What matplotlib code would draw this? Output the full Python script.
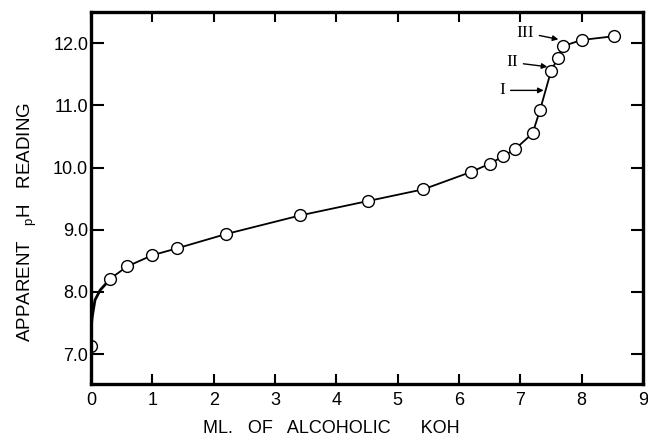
import matplotlib
matplotlib.use("Agg")
import matplotlib.pyplot as plt

# titration data
ml_koh = [0.0, 0.31, 0.59, 1.0, 1.40, 2.20, 3.41, 4.51, 5.42, 6.20, 6.50, 6.72, 6.92, 7.20, 7.32, 7.50, 7.61, 7.69, 8.00, 8.52]
ph_read = [7.13, 8.21, 8.41, 8.59, 8.70, 8.93, 9.23, 9.46, 9.65, 9.93, 10.06, 10.18, 10.30, 10.55, 10.92, 11.55, 11.76, 11.95, 12.05, 12.11]

# hand-drawn initial curve near origin
curve_x = [0.0, 0.02, 0.065, 0.15, 0.26, 0.31]
curve_y = [7.40, 7.60, 7.87, 8.03, 8.15, 8.21]

x_ticks = [0, 1, 2, 3, 4, 5, 6, 7, 8, 9]
y_ticks = [7.0, 8.0, 9.0, 10.0, 11.0, 12.0]
y_tick_labels = ["7.0", "8.0", "9.0", "10.0", "11.0", "12.0"]

# annotations: label, text position, arrow tip
ann_labels = ["III", "II", "I"]
ann_text = [(7.22, 12.17), (6.96, 11.69), (6.75, 11.24)]
ann_tip = [(7.62, 12.06), (7.44, 11.62), (7.38, 11.24)]

plt.rcParams['font.family'] = ['Liberation Sans', 'DejaVu Sans']

fig = plt.figure(figsize=(6.48, 4.37), dpi=100)
ax = fig.add_axes([91/648, 1-384/437, (643-91)/648, (384-12)/437])

ax.plot(curve_x, curve_y, color='black', lw=2.0, solid_capstyle='round')
ax.plot(ml_koh[1:], ph_read[1:], color='black', lw=1.3, marker='o', ms=8.5,
        mfc='white', mec='black', mew=1.0, zorder=3)
ax.plot(ml_koh[:1], ph_read[:1], ls='none', marker='o', ms=8.5,
        mfc='white', mec='black', mew=1.0, zorder=1, clip_on=True)

ax.set_xlim(0, 9)
ax.set_ylim(6.52, 12.5)
ax.set_xticks(x_ticks)
ax.set_xticklabels([str(v) for v in x_ticks])
ax.set_yticks(y_ticks)
ax.set_yticklabels(y_tick_labels)

ax.tick_params(axis='both', direction='in', width=1.5, labelsize=13, colors='black')
ax.tick_params(axis='y', length=9, right=True, pad=2)
ax.tick_params(axis='x', length=7, top=True, pad=6)
for s in ax.spines.values():
    s.set_linewidth(2.4)

ax.set_xlabel("ML.   OF   ALCOHOLIC      KOH", fontsize=13)
ax.xaxis.set_label_coords(0.435, -0.097)
ax.set_ylabel("APPARENT   $_\\mathregular{p}$H   READING", fontsize=13.5)
ax.yaxis.set_label_coords(-0.094, 0.435)

for lab, tp, tip in zip(ann_labels, ann_text, ann_tip):
    ax.annotate(lab, xy=tip, xytext=tp, fontsize=12.5, family='Liberation Serif',
                ha='right', va='center',
                arrowprops=dict(arrowstyle='-|>', color='black', lw=1.0,
                                mutation_scale=8, shrinkA=2, shrinkB=0))

fig.savefig("out.png", dpi=100)
